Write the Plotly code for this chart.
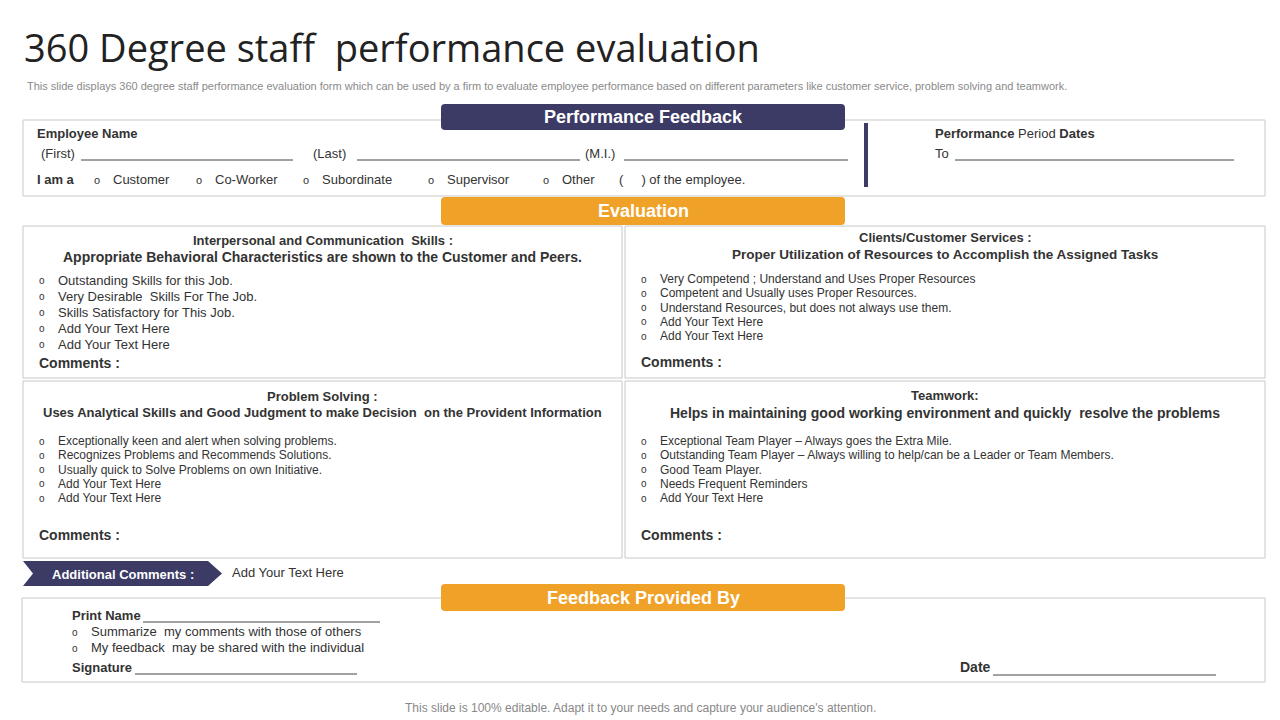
import plotly.graph_objects as go

title = "360 Degree staff  performance evaluation"
subtitle = ("This slide displays 360 degree staff performance evaluation form which can be used by a firm to evaluate "
            "employee performance based on different parameters like customer service, problem solving and teamwork.")
footer = "This slide is 100% editable. Adapt it to your needs and capture your audience's attention."

roles = ["Customer", "Co-Worker", "Subordinate", "Supervisor", "Other"]

sections = [
    ("Interpersonal and Communication  Skills :",
     "Appropriate Behavioral Characteristics are shown to the Customer and Peers.",
     ["Outstanding Skills for this Job.", "Very Desirable  Skills For The Job.",
      "Skills Satisfactory for This Job.", "Add Your Text Here", "Add Your Text Here"]),
    ("Clients/Customer Services :",
     "Proper Utilization of Resources to Accomplish the Assigned Tasks",
     ["Very Competend ; Understand and Uses Proper Resources", "Competent and Usually uses Proper Resources.",
      "Understand Resources, but does not always use them.", "Add Your Text Here", "Add Your Text Here"]),
    ("Problem Solving :",
     "Uses Analytical Skills and Good Judgment to make Decision  on the Provident Information",
     ["Exceptionally keen and alert when solving problems.", "Recognizes Problems and Recommends Solutions.",
      "Usually quick to Solve Problems on own Initiative.", "Add Your Text Here", "Add Your Text Here"]),
    ("Teamwork:",
     "Helps in maintaining good working environment and quickly  resolve the problems",
     ["Exceptional Team Player – Always goes the Extra Mile.",
      "Outstanding Team Player – Always willing to help/can be a Leader or Team Members.",
      "Good Team Player.", "Needs Frequent Reminders", "Add Your Text Here"]),
]

feedback_items = ["Summarize  my comments with those of others", "My feedback  may be shared with the individual"]

NAVY = "#3b3b66"
ORANGE = "#f0a128"
BORDER = "#c8c8c8"
TXT = "#333333"
FONT = "Liberation Sans, Arial"

fig = go.Figure()
shapes, annos = [], []


def text(x, y, s, size=12, color=TXT, bold=False, anchor="left", family=FONT):
    if bold:
        s = f"<b>{s}</b>"
    annos.append(dict(x=x, y=y, text=s, showarrow=False, xanchor=anchor, yanchor="middle",
                      font=dict(size=size, color=color, family=family)))


def rect(x0, y0, x1, y1, line=BORDER, fill=None, width=1):
    shapes.append(dict(type="rect", x0=x0, y0=y0, x1=x1, y1=y1,
                       line=dict(color=line, width=width), fillcolor=fill or "rgba(0,0,0,0)"))


def hline(x0, x1, y, color="#444", w=1):
    shapes.append(dict(type="line", x0=x0, x1=x1, y0=y, y1=y, line=dict(color=color, width=w)))


def pill(x0, y0, x1, y1, color, label):
    r = 4
    path = (f"M {x0+r} {y0} L {x1-r} {y0} Q {x1} {y0} {x1} {y0+r} L {x1} {y1-r} Q {x1} {y1} {x1-r} {y1} "
            f"L {x0+r} {y1} Q {x0} {y1} {x0} {y1-r} L {x0} {y0+r} Q {x0} {y0} {x0+r} {y0} Z")
    shapes.append(dict(type="path", path=path, line=dict(width=0), fillcolor=color))
    text((x0 + x1) / 2, (y0 + y1) / 2, label, size=18, color="white", bold=True, anchor="center")


# header
text(22, 47, title, size=38, color="#222", family="Open Sans, Liberation Sans")
text(25, 86, subtitle, size=11, color="#8a8a8a")

# performance feedback box
rect(23, 120, 1265, 196)
pill(441, 104, 845, 130, NAVY, "Performance Feedback")
shapes.append(dict(type="line", x0=866, x1=866, y0=123, y1=187, line=dict(color=NAVY, width=4)))
text(35, 133, "Employee Name", size=13, bold=True)
text(39, 153, "(First)", size=13)
hline(81, 293, 160)
text(311, 153, "(Last)", size=13)
hline(357, 580, 160)
text(583, 153, "(M.I.)", size=13)
hline(624, 848, 160)
text(35, 179, "I am a", size=13, bold=True)
for rx, r in zip([92, 194, 301, 426, 541], roles):
    text(rx, 180, "o", size=11)
    text(rx + 19, 179, r, size=13)
text(617, 179, "(     ) of the employee.", size=13)
text(933, 133, "<b>Performance</b> Period <b>Dates</b>", size=13)
text(933, 153, "To", size=13)
hline(955, 1234, 160)

# evaluation
pill(441, 197, 845, 225, ORANGE, "Evaluation")
cells = [(23, 226, 622, 378), (625, 226, 1265, 378), (23, 381, 622, 558), (625, 381, 1265, 558)]
head_y = [(240, 257), (237, 254), (396, 412), (395, 413)]
head_size = [(13, 14), (13, 13.5), (13, 13), (13, 14)]
bullet_y0 = [280, 279, 441, 441]
bullet_dy = [16, 14.3, 14.3, 14.3]
bullet_size = [13, 12, 12, 12]
comment_y = [363, 362, 535, 535]
for (x0, y0, x1, y1), (h1, h2, items), (hy1, hy2), (s1, s2), by, dy, bs, cy in zip(
        cells, sections, head_y, head_size, bullet_y0, bullet_dy, bullet_size, comment_y):
    rect(x0, y0, x1, y1)
    cx = (x0 + x1) / 2
    text(cx, hy1, h1, size=s1, bold=True, anchor="center")
    text(cx, hy2, h2, size=s2, bold=True, anchor="center")
    for i, it in enumerate(items):
        text(x0 + 14, by + i * dy, "o", size=10)
        text(x0 + 33, by + i * dy, it, size=bs)
    text(x0 + 14, cy, "Comments :", size=14, bold=True)

# additional comments
shapes.append(dict(type="path", path="M 23 561 L 208 561 L 222 573.5 L 208 586 L 23 586 L 33 573.5 Z",
                   fillcolor=NAVY, line=dict(width=0)))
text(123, 574, "Additional Comments :", size=13, color="white", bold=True, anchor="center")
text(230, 572, "Add Your Text Here", size=13)

# feedback provided by
rect(22, 598, 1265, 682)
pill(441, 584, 845, 611, ORANGE, "Feedback Provided By")
text(70, 615, "Print Name", size=13, bold=True)
hline(143, 380, 622)
for i, it in enumerate(feedback_items):
    text(70, 632 + i * 16, "o", size=10)
    text(89, 631 + i * 16, it, size=13)
text(70, 667, "Signature", size=13, bold=True)
hline(135, 357, 674)
text(958, 667, "Date", size=14, bold=True)
hline(993, 1216, 675)

text(640, 708, footer, size=12, color="#888", anchor="center")

# page has an 8px body margin: shift the visible range so coordinates line up with the window
fig.update_layout(
    width=1280, height=720, margin=dict(l=0, r=0, t=0, b=0),
    plot_bgcolor="white", paper_bgcolor="white",
    xaxis=dict(range=[8, 1288], visible=False, fixedrange=True),
    yaxis=dict(range=[728, 8], visible=False, fixedrange=True),
    shapes=shapes, annotations=annos, showlegend=False,
)
fig.write_html("out.html")
